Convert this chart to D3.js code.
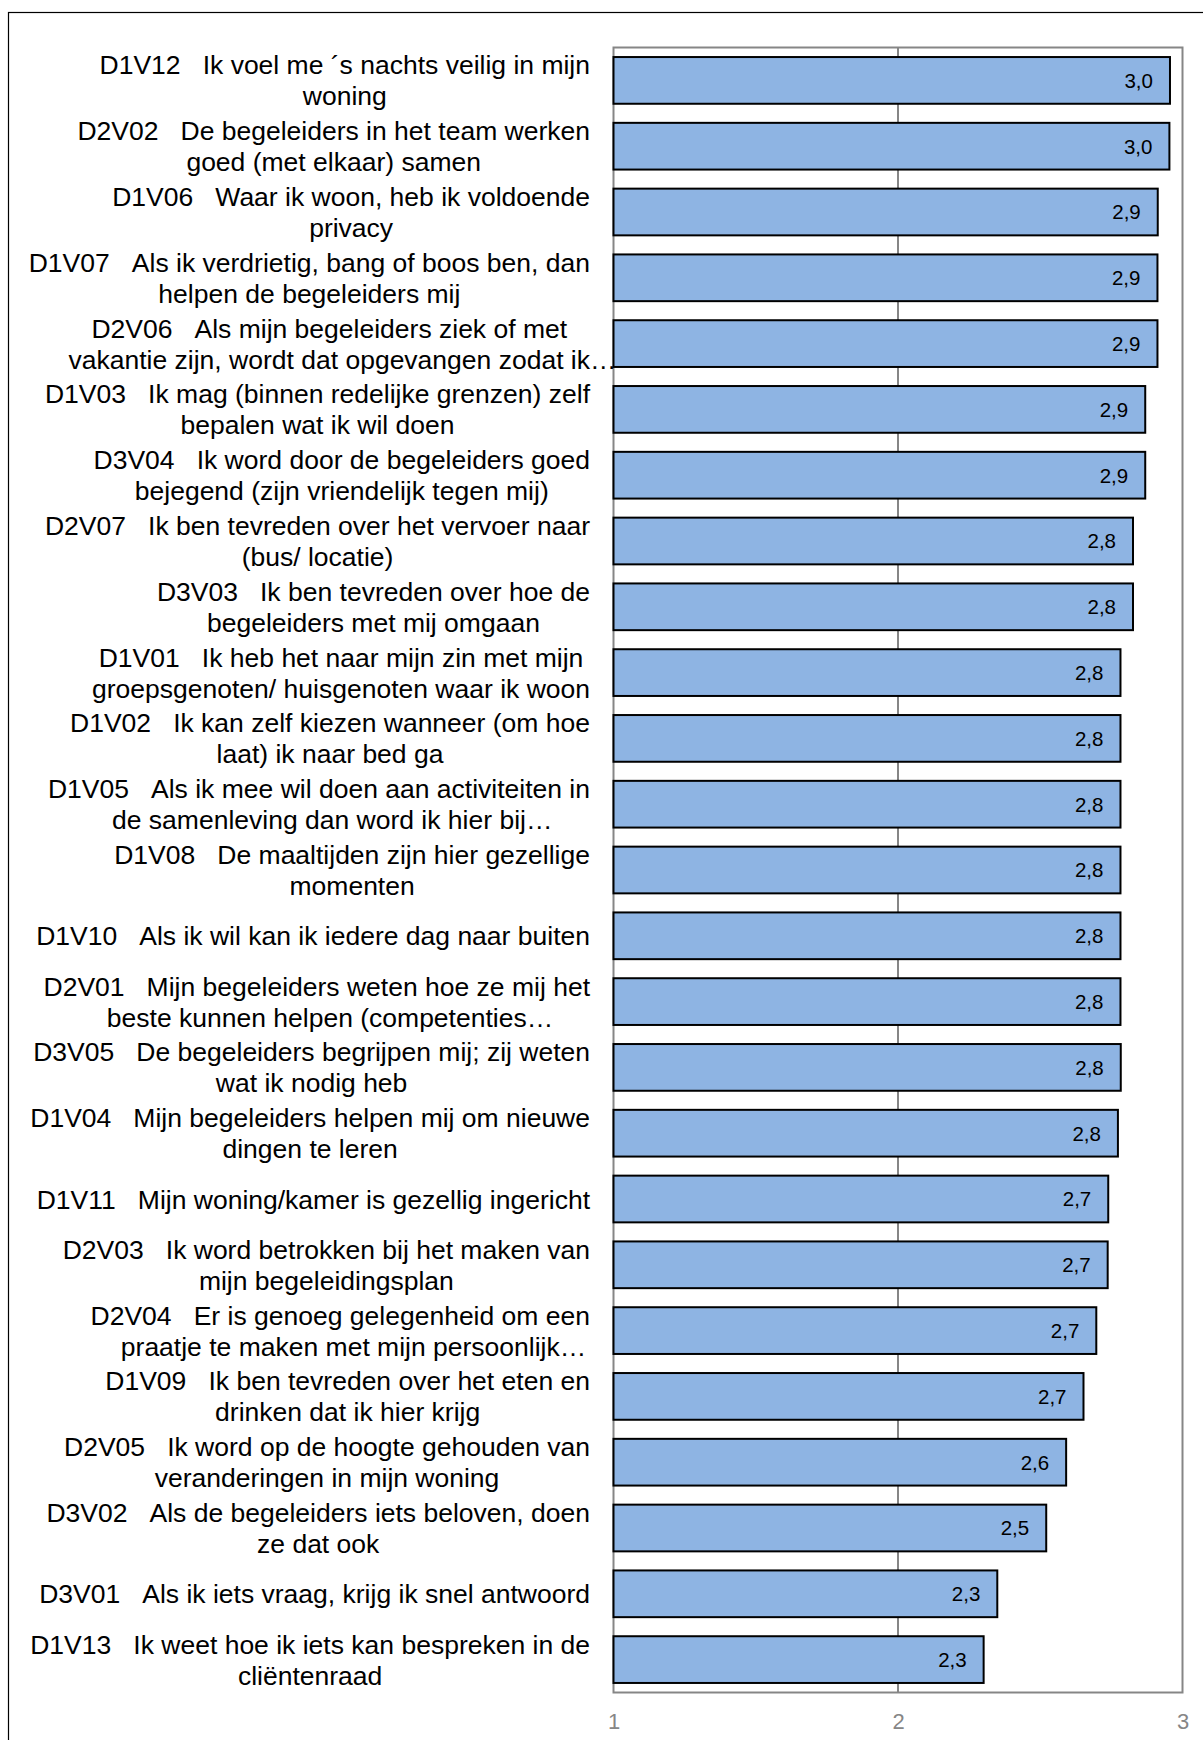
<!DOCTYPE html>
<html>
<head>
<meta charset="utf-8">
<script src="https://cdn.jsdelivr.net/npm/d3@7"></script>
<style>
  html, body { margin: 0; padding: 0; background: #fff; }
  svg { display: block; }
  svg text { font-family: Arial, "Liberation Sans", sans-serif; }
</style>
</head>
<body>
<svg id="chart" width="1203" height="1740"></svg>
<script>
// ---- data ----
const codes = ["D1V12","D2V02","D1V06","D1V07","D2V06","D1V03","D3V04","D2V07","D3V03","D1V01",
  "D1V02","D1V05","D1V08","D1V10","D2V01","D3V05","D1V04","D1V11","D2V03","D2V04",
  "D1V09","D2V05","D3V02","D3V01","D1V13"];
const questions = [
  ["Ik voel me ´s nachts veilig in mijn", "woning"],
  ["De begeleiders in het team werken", "goed (met elkaar) samen"],
  ["Waar ik woon, heb ik voldoende", "privacy"],
  ["Als ik verdrietig, bang of boos ben, dan", "helpen de begeleiders mij"],
  ["Als mijn begeleiders ziek of met", "vakantie zijn, wordt dat opgevangen zodat ik…"],
  ["Ik mag (binnen redelijke grenzen) zelf", "bepalen wat ik wil doen"],
  ["Ik word door de begeleiders goed", "bejegend (zijn vriendelijk tegen mij)"],
  ["Ik ben tevreden over het vervoer naar", "(bus/ locatie)"],
  ["Ik ben tevreden over hoe de", "begeleiders met mij omgaan"],
  ["Ik heb het naar mijn zin met mijn", "groepsgenoten/ huisgenoten waar ik woon"],
  ["Ik kan zelf kiezen wanneer (om hoe", "laat) ik naar bed ga"],
  ["Als ik mee wil doen aan activiteiten in", "de samenleving dan word ik hier bij…"],
  ["De maaltijden zijn hier gezellige", "momenten"],
  ["Als ik wil kan ik iedere dag naar buiten"],
  ["Mijn begeleiders weten hoe ze mij het", "beste kunnen helpen (competenties…"],
  ["De begeleiders begrijpen mij; zij weten", "wat ik nodig heb"],
  ["Mijn begeleiders helpen mij om nieuwe", "dingen te leren"],
  ["Mijn woning/kamer is gezellig ingericht"],
  ["Ik word betrokken bij het maken van", "mijn begeleidingsplan"],
  ["Er is genoeg gelegenheid om een", "praatje te maken met mijn persoonlijk…"],
  ["Ik ben tevreden over het eten en", "drinken dat ik hier krijg"],
  ["Ik word op de hoogte gehouden van", "veranderingen in mijn woning"],
  ["Als de begeleiders iets beloven, doen", "ze dat ook"],
  ["Als ik iets vraag, krijg ik snel antwoord"],
  ["Ik weet hoe ik iets kan bespreken in de", "cliëntenraad"]
];
const values = [2.956, 2.954, 2.913, 2.912, 2.912, 2.869, 2.869, 2.826, 2.826, 2.782,
  2.782, 2.782, 2.782, 2.782, 2.782, 2.783, 2.773, 2.739, 2.737, 2.697,
  2.652, 2.591, 2.521, 2.349, 2.301];
const xTicks = [1, 2, 3];

// ---- layout ----
const svg = d3.select("#chart");
const plot = { left: 613.5, right: 1182.5, top: 47.5, bottom: 1692.5 };
const labelRight = 590;
const catFont = 26.5;
const lineGap = 31;

const x = d3.scaleLinear().domain([1, 3]).range([plot.left, plot.right]);
const y = d3.scaleBand().domain(codes).range([plot.top, plot.bottom]).paddingInner(0.29).paddingOuter(0.145);

const locale = d3.formatLocale({ decimal: ",", thousands: ".", grouping: [3], currency: ["€", ""] });
const fmt = locale.format(".1f");

// outer border
svg.append("rect").attr("x", 8.5).attr("y", 12.5).attr("width", 1400).attr("height", 1900)
  .attr("fill", "none").attr("stroke", "#000").attr("stroke-width", 1.2);

// plot frame
svg.append("rect").attr("x", plot.left).attr("y", plot.top)
  .attr("width", plot.right - plot.left).attr("height", plot.bottom - plot.top)
  .attr("fill", "#fff").attr("stroke", "#868686").attr("stroke-width", 2);

// gridlines
svg.append("g").selectAll("line").data(xTicks.filter(t => t > 1 && t < 3)).join("line")
  .attr("x1", d => x(d)).attr("x2", d => x(d))
  .attr("y1", plot.top).attr("y2", plot.bottom)
  .attr("stroke", "#868686").attr("stroke-width", 2);

// bars
svg.append("g").selectAll("rect").data(codes).join("rect")
  .attr("x", x(1))
  .attr("y", d => y(d))
  .attr("width", (d, i) => x(values[i]) - x(1))
  .attr("height", y.bandwidth())
  .attr("fill", "#8EB4E3")
  .attr("stroke", "#000").attr("stroke-width", 2);

// value labels
svg.append("g").selectAll("text").data(codes).join("text")
  .attr("x", (d, i) => x(values[i]) - 17)
  .attr("y", d => y(d) + y.bandwidth() / 2)
  .attr("dy", "0.36em")
  .attr("text-anchor", "end")
  .style("font-size", "20.5px")
  .attr("fill", "#000")
  .text((d, i) => fmt(values[i]));

// x axis
const xAxis = d3.axisBottom(x).tickValues(xTicks).tickSize(0).tickPadding(0).tickFormat(d3.format("d"));
const gx = svg.append("g").attr("transform", `translate(0, 1721)`).call(xAxis);
gx.attr("font-size", null).attr("font-family", null);
gx.select(".domain").remove();
gx.selectAll("text").style("font-size", "22px").attr("fill", "#868686")
  .attr("dy", "0.36em").attr("y", 0);

// category labels
const gl = svg.append("g");
codes.forEach((code, i) => {
  const lines = questions[i].map((q, j) => j === 0 ? code + "\u00a0\u00a0\u00a0" + q : q);
  const cy = y(code) + y.bandwidth() / 2;
  const measure = gl.append("text").style("font-size", catFont + "px").attr("visibility", "hidden");
  const widths = lines.map(l => {
    measure.text(l.replace(/…$/, ""));
    return measure.node().getComputedTextLength();
  });
  measure.remove();
  const blockW = d3.max(widths);
  const center = labelRight - blockW / 2;
  const n = lines.length;
  lines.forEach((l, j) => {
    gl.append("text")
      .attr("x", center - widths[j] / 2)
      .attr("y", cy + (j - (n - 1) / 2) * lineGap)
      .attr("dy", "0.36em")
      .style("font-size", catFont + "px")
      .attr("fill", "#000")
      .attr("text-anchor", "start")
      .text(l);
  });
});
</script>
</body>
</html>
